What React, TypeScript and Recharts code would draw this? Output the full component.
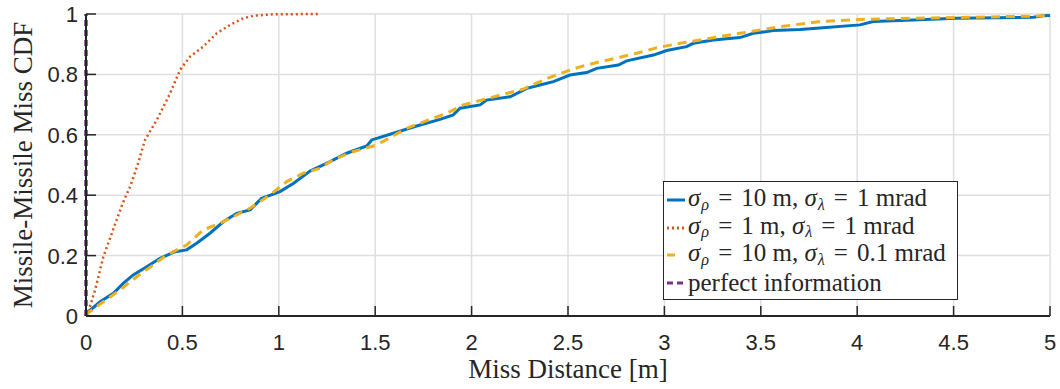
import { LineChart, Line, XAxis, YAxis, CartesianGrid, Label } from "recharts";

document.body.style.margin = "0";

// sigma_rho = 10 m, sigma_lambda = 1 mrad
const blueX = [0, 0.012, 0.073, 0.142, 0.193, 0.245, 0.315, 0.384, 0.462, 0.522, 0.574, 0.643, 0.712, 0.782, 0.851, 0.911, 1.006, 1.075, 1.162, 1.266, 1.352, 1.456, 1.482, 1.594, 1.715, 1.836, 1.905, 1.94, 2.044, 2.078, 2.2, 2.286, 2.355, 2.424, 2.51, 2.597, 2.649, 2.761, 2.804, 2.943, 3.012, 3.115, 3.15, 3.254, 3.392, 3.461, 3.565, 3.703, 3.772, 4.015, 4.083, 4.29, 4.512, 4.914, 4.965, 5.0];
const blueY = [0, 0.014, 0.047, 0.075, 0.108, 0.136, 0.163, 0.191, 0.213, 0.219, 0.241, 0.274, 0.312, 0.34, 0.351, 0.39, 0.412, 0.439, 0.48, 0.511, 0.539, 0.563, 0.583, 0.605, 0.629, 0.651, 0.666, 0.688, 0.699, 0.715, 0.726, 0.754, 0.765, 0.776, 0.798, 0.806, 0.82, 0.831, 0.845, 0.864, 0.879, 0.892, 0.903, 0.914, 0.922, 0.936, 0.945, 0.949, 0.952, 0.964, 0.975, 0.98, 0.986, 0.989, 0.994, 0.995];

// sigma_rho = 1 m, sigma_lambda = 1 mrad
const redX = [0, 0.01, 0.047, 0.09, 0.14, 0.19, 0.23, 0.27, 0.306, 0.367, 0.436, 0.488, 0.54, 0.608, 0.678, 0.747, 0.816, 0.868, 0.97, 1.21];
const redY = [0, 0.01, 0.086, 0.196, 0.285, 0.373, 0.43, 0.505, 0.583, 0.649, 0.737, 0.815, 0.859, 0.892, 0.936, 0.964, 0.986, 0.994, 0.999, 1.0];

// sigma_rho = 10 m, sigma_lambda = 0.1 mrad
const yelX = [0, 0.01, 0.09, 0.176, 0.263, 0.349, 0.418, 0.522, 0.608, 0.695, 0.764, 0.851, 0.954, 1.041, 1.127, 1.214, 1.28, 1.385, 1.507, 1.663, 1.767, 1.87, 1.957, 2.164, 2.268, 2.372, 2.45, 2.562, 2.666, 2.77, 2.856, 2.96, 3.081, 3.185, 3.305, 3.392, 3.496, 3.6, 3.807, 4.015, 4.29, 4.568, 4.91, 5.0];
const yelY = [0, 0.01, 0.047, 0.086, 0.13, 0.169, 0.202, 0.235, 0.285, 0.307, 0.329, 0.357, 0.401, 0.445, 0.473, 0.489, 0.517, 0.544, 0.566, 0.621, 0.647, 0.671, 0.699, 0.734, 0.751, 0.781, 0.801, 0.825, 0.842, 0.857, 0.87, 0.888, 0.903, 0.914, 0.927, 0.936, 0.947, 0.958, 0.975, 0.982, 0.986, 0.989, 0.993, 0.995];

// perfect information
const perfX = [0, 0];
const perfY = [0, 1];

const xTicks = [0, 0.5, 1, 1.5, 2, 2.5, 3, 3.5, 4, 4.5, 5];
const yTicks = [0, 0.2, 0.4, 0.6, 0.8, 1];

const zip = (xs: number[], ys: number[]) => xs.map((x, i) => ({ x, y: ys[i] }));

const AXIS = "#262626";
const TICK_FONT = "'Liberation Sans', Arial, sans-serif";
const SERIF = "'Liberation Serif', 'Times New Roman', serif";

const XTick = ({ x, y, payload }: any) => (
  <g>
    <line x1={x} x2={x} y1={y} y2={y - 10} stroke={AXIS} strokeWidth={1.5} />
    <text x={x} y={y + 34} textAnchor="middle" fill={AXIS} fontSize={22} fontFamily={TICK_FONT}>
      {String(payload.value)}
    </text>
  </g>
);

const YTick = ({ x, y, payload }: any) => (
  <g>
    <line x1={x} x2={x + 10} y1={y} y2={y} stroke={AXIS} strokeWidth={1.5} />
    <text x={x - 8} y={y + 8} textAnchor="end" fill={AXIS} fontSize={22} fontFamily={TICK_FONT}>
      {String(payload.value)}
    </text>
  </g>
);

const YTitle = () => (
  <text
    x={32}
    y={165}
    transform="rotate(-90 32 165)"
    textAnchor="middle"
    fill={AXIS}
    fontSize={27}
    fontFamily={SERIF}
  >
    Missile-Missile Miss CDF
  </text>
);

const XTitle = () => (
  <text x={568} y={378} textAnchor="middle" fill={AXIS} fontSize={27} fontFamily={SERIF}>
    Miss Distance [m]
  </text>
);

const Sym = ({ base, sub }: { base: string; sub: string }) => (
  <span>
    <i>{base}</i>
    <i style={{ fontSize: "0.65em", position: "relative", top: "0.22em", marginLeft: 1 }}>{sub}</i>
  </span>
);

const Eq = () => <span style={{ margin: "0 9px" }}>=</span>;

const legendRows = [
  { color: "#0072BD", dash: "none", rho: "10", lam: "1" },
  { color: "#D95319", dash: "2 3", rho: "1", lam: "1" },
  { color: "#EDB120", dash: "8 20", rho: "10", lam: "0.1" },
];

const rowStyle = { display: "flex", alignItems: "center", height: 27.5, lineHeight: "27.5px", whiteSpace: "nowrap" as const };

export default function App() {
  return (
    <div style={{ position: "relative", width: 1060, height: 389, background: "#fff" }}>
      <LineChart width={1060} height={389} margin={{ top: 14, right: 10, bottom: 0, left: 0 }}>
        <CartesianGrid stroke="#dfdfdf" strokeWidth={1.5} />
        <XAxis
          type="number"
          dataKey="x"
          domain={[0, 5]}
          ticks={xTicks}
          height={73}
          tickLine={false}
          tickSize={0}
          tickMargin={0}
          tick={<XTick />}
          stroke={AXIS}
          strokeWidth={2}
        >
          <Label content={<XTitle />} />
        </XAxis>
        <YAxis
          type="number"
          dataKey="y"
          domain={[0, 1]}
          ticks={yTicks}
          width={86}
          tickLine={false}
          tickSize={0}
          tickMargin={0}
          tick={<YTick />}
          stroke={AXIS}
          strokeWidth={2}
        >
          <Label content={<YTitle />} />
        </YAxis>
        <Line data={zip(blueX, blueY)} dataKey="y" stroke="#0072BD" strokeWidth={3} dot={false} isAnimationActive={false} />
        <Line data={zip(redX, redY)} dataKey="y" stroke="#D95319" strokeWidth={2.5} strokeDasharray="2 3" dot={false} isAnimationActive={false} />
        <Line data={zip(yelX, yelY)} dataKey="y" stroke="#EDB120" strokeWidth={3} strokeDasharray="9 6" dot={false} isAnimationActive={false} />
        <Line data={zip(perfX, perfY)} dataKey="y" stroke="#7E2F8E" strokeWidth={3.5} strokeDasharray="6 4" dot={false} isAnimationActive={false} />
      </LineChart>
      <div
        style={{
          position: "absolute",
          left: 663,
          top: 181,
          width: 293,
          height: 113,
          border: `1.5px solid ${AXIS}`,
          background: "#fff",
          fontFamily: SERIF,
          fontSize: 25,
          color: AXIS,
          paddingTop: 4,
          boxSizing: "content-box",
        }}
      >
        {legendRows.map((r, i) => (
          <div key={i} style={rowStyle}>
            <svg width={24} height={27} style={{ flex: "none" }}>
              <line x1={3} x2={21} y1={14} y2={14} stroke={r.color} strokeWidth={3} strokeDasharray={r.dash} />
            </svg>
            <span>
              <Sym base="σ" sub="ρ" />
              <Eq />
              {r.rho} m, <Sym base="σ" sub="λ" />
              <Eq />
              {r.lam} mrad
            </span>
          </div>
        ))}
        <div style={rowStyle}>
          <svg width={24} height={27} style={{ flex: "none" }}>
            <line x1={3} x2={21} y1={14} y2={14} stroke="#7E2F8E" strokeWidth={3} strokeDasharray="6 4" />
          </svg>
          <span>perfect information</span>
        </div>
      </div>
    </div>
  );
}
